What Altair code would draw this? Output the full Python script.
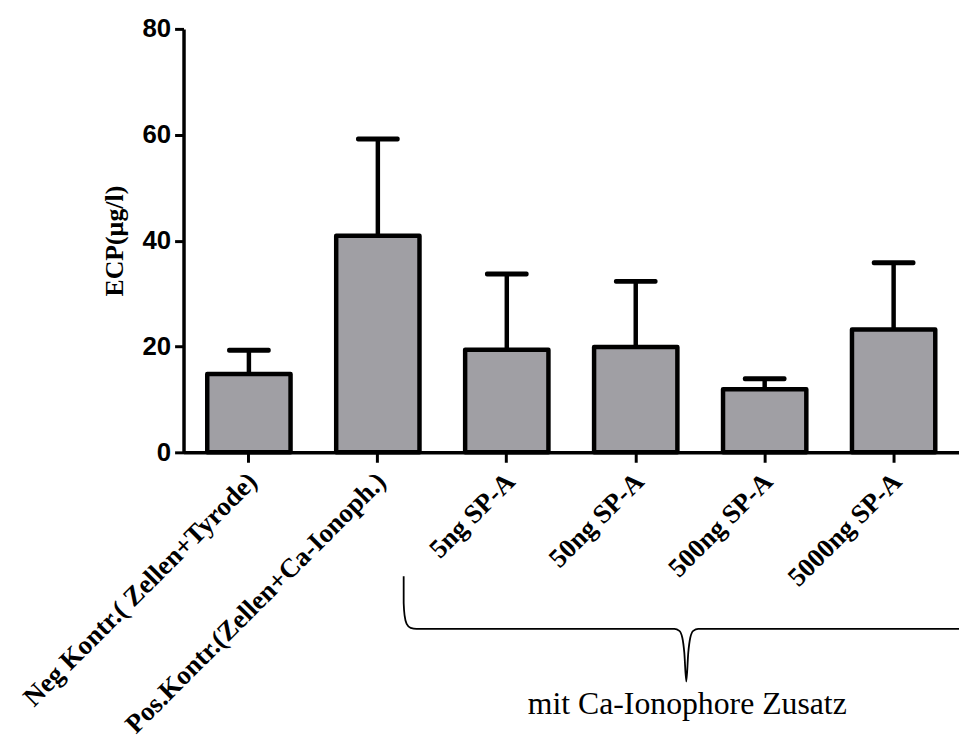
import altair as alt
import pandas as pd

categories = [
    "Neg Kontr.( Zellen+Tyrode)",
    "Pos.Kontr.(Zellen+Ca-Ionoph.)",
    "5ng SP-A",
    "50ng SP-A",
    "500ng SP-A",
    "5000ng SP-A",
]
means = [14.8, 40.9, 19.4, 19.9, 11.9, 23.2]
err_top = [19.3, 59.2, 33.7, 32.3, 13.9, 35.8]

df = pd.DataFrame({"cat": categories, "mean": means, "err": err_top})

W, H = 782, 427

x_enc = alt.X(
    "cat:N",
    sort=categories,
    scale=alt.Scale(paddingInner=0.354, paddingOuter=0.184),
    axis=alt.Axis(
        title=None,
        labelAngle=-45,
        labelAlign="right",
        labelBaseline="middle",
        labelFont="Liberation Serif",
        labelFontWeight="bold",
        labelFontSize=27,
        labelColor="black",
        labelPadding=15,
        labelOffset=4,
        labelLimit=700,
        tickSize=10,
        tickWidth=3,
        tickColor="black",
        domainColor="black",
        domainWidth=3.5,
    ),
)
y_scale = alt.Scale(domain=[0, 80], nice=False)

bars = alt.Chart(df).mark_bar(
    color="#a09fa4", stroke="black", strokeWidth=4.5, strokeJoin="round"
).encode(
    x=x_enc,
    y=alt.Y(
        "mean:Q",
        scale=y_scale,
        axis=alt.Axis(
            title="ECP(µg/l)",
            titleFont="Liberation Serif",
            titleFontWeight="bold",
            titleFontSize=26,
            titleColor="black",
            titlePadding=15,
            values=[0, 20, 40, 60, 80],
            labelFont="Liberation Sans",
            labelFontWeight="bold",
            labelFontSize=26,
            labelColor="black",
            labelPadding=4,
            tickSize=9,
            tickWidth=3,
            tickColor="black",
            domainColor="black",
            domainWidth=3.5,
            grid=False,
        ),
    ),
)

whisk = alt.Chart(df).mark_rule(color="black", strokeWidth=4.5).encode(
    x=alt.X("cat:N", sort=categories),
    y=alt.Y("mean:Q", scale=y_scale),
    y2="err:Q",
)

caps = alt.Chart(df).mark_tick(
    color="black", thickness=5, size=44, cornerRadius=2, opacity=1
).encode(
    x=alt.X("cat:N", sort=categories),
    y=alt.Y("err:Q", scale=y_scale),
)

# brace annotation (pixel path, plot-area coordinates)
brace_x = [222, 222, 223, 225, 229, 235, 495, 500, 503, 505, 507, 509, 511, 514, 519, 782]
brace_y = [552, 579, 592, 600, 604, 605, 605, 607, 614, 629, 658, 629, 614, 607, 605, 605]
brace_df = pd.DataFrame({"bx": brace_x, "by": brace_y, "i": list(range(len(brace_x)))})

brace = alt.Chart(brace_df).mark_line(color="black", strokeWidth=1.8, interpolate="monotone").encode(
    x=alt.X("bx:Q", scale=None, axis=None),
    y=alt.Y("by:Q", scale=None, axis=None),
    order="i:O",
)

note = alt.Chart(pd.DataFrame({"t": ["mit Ca-Ionophore Zusatz"]})).mark_text(
    font="Liberation Serif", fontSize=32, color="black", baseline="alphabetic", align="center"
).encode(
    x=alt.value(508),
    y=alt.value(691),
    text="t:N",
)

main = alt.layer(whisk, bars, caps)

chart = alt.layer(main, brace, note).resolve_scale(x="independent", y="independent").properties(
    width=W,
    height=H,
    autosize=alt.AutoSizeParams(type="none"),
    padding={"left": 177, "top": 18, "right": 0, "bottom": 286},
    background="white",
).configure_view(stroke=None)

chart.save("out.html", embed_options={"renderer": "svg", "actions": False})
